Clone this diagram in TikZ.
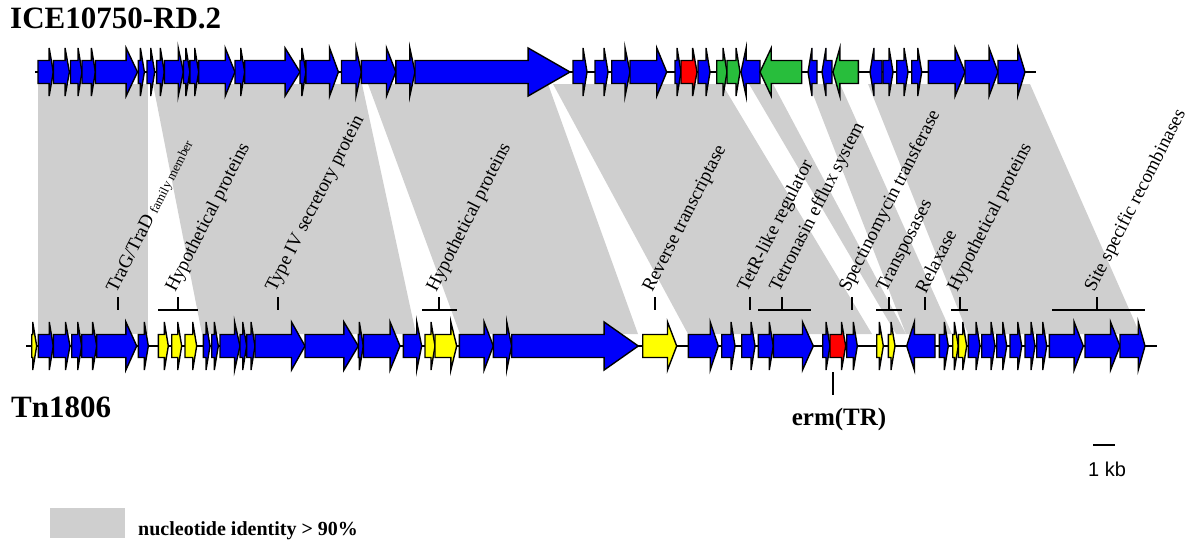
\documentclass[tikz,border=0pt]{standalone}
\usepackage{fontspec}
\setmainfont{Liberation Serif}
\newfontfamily\kbfont{Liberation Sans}
\usepackage{tikz}
\usetikzlibrary{positioning}

\definecolor{gblue}{RGB}{0,0,250}
\definecolor{gyellow}{RGB}{255,255,0}
\definecolor{gred}{RGB}{255,0,0}
\definecolor{ggreen}{RGB}{40,190,60}
\definecolor{bandgrey}{RGB}{207,207,207}

% forward gene: start, end, colour, axis y
\newcommand{\fgene}[4]{%
  \pgfmathsetmacro{\hlen}{min(#2-#1, max(4, 0.27*(#2-#1)))}%
  \pgfmathsetmacro{\hx}{#2-\hlen}%
  \draw[gene, fill=#3] (#1,#4-11.5) -- (\hx,#4-11.5) -- (\hx,#4-24) -- (#2,#4)
    -- (\hx,#4+24) -- (\hx,#4+11.5) -- (#1,#4+11.5) -- cycle;}
% reverse gene: start, end, colour, axis y
\newcommand{\rgene}[4]{%
  \pgfmathsetmacro{\hlen}{min(#2-#1, max(4, 0.27*(#2-#1)))}%
  \pgfmathsetmacro{\hx}{#1+\hlen}%
  \draw[gene, fill=#3] (#2,#4-11.5) -- (\hx,#4-11.5) -- (\hx,#4-24) -- (#1,#4)
    -- (\hx,#4+24) -- (\hx,#4+11.5) -- (#2,#4+11.5) -- cycle;}

\begin{document}
\begin{tikzpicture}[x=1pt, y=-1pt,
    gene/.style={draw=black, line width=1.4pt},
    band/.style={fill=bandgrey},
    marker/.style={line width=2pt},
    lbl/.style={rotate=63, anchor=south west, inner sep=0pt, font=\fontsize{19}{19}\selectfont}]
  \useasboundingbox (0,0) rectangle (1200,550);

  % homology bands
  \foreach \a/\b/\c/\d in {38/148/148/38, 153/362/416/202, 368/548/638/460,
      553/722/872/688, 749/773/906/896, 809/840/952/906, 868/1030/1140/968}
    \fill[band] (\a,84) -- (\b,84) -- (\c,334) -- (\d,334) -- cycle;

  % backbones
  \draw[line width=1.5pt] (35,72) -- (1036,72);
  \draw[line width=1.5pt] (26,346) -- (1157,346);

  % ICE10750-RD.2
  \foreach \s/\e/\c in {38/53.3/gblue, 53.3/69.4/gblue, 70.5/82/gblue, 82/95.4/gblue,
      95.4/137.5/gblue, 138.3/144.4/gblue, 147/154.7/gblue, 156.6/164.3/gblue,
      164.3/183.4/gblue, 183.4/189.9/gblue, 189.9/198.7/gblue, 198.7/235/gblue,
      235/244.7/gblue, 244.7/300/gblue, 300/305.9/gblue, 305.9/338.4/gblue,
      341.5/361.4/gblue, 361.4/395.8/gblue, 395.8/415/gblue, 415/570/gblue,
      573/587/gblue, 595/608/gblue, 611.7/630/gblue, 630/666.7/gblue,
      675/681/gblue, 681/697/gred, 698/710/gblue, 716.7/727/ggreen, 727/740/ggreen,
      883/893/gblue, 896.7/908/gblue, 911.7/921.7/gblue, 928.3/965/gblue,
      965/998/gblue, 998/1025/gblue}
    \fgene{\s}{\e}{\c}{72};
  \foreach \s/\e/\c in {741/760/gblue, 760/801.7/ggreen, 808/817/gblue,
      822/832/gblue, 833/858.3/ggreen, 870/882/gblue}
    \rgene{\s}{\e}{\c}{72};

  % Tn1806
  \foreach \s/\e/\c in {31.7/36.7/gyellow, 38.3/53.3/gblue, 53.3/70/gblue,
      71.7/81.7/gblue, 81.7/96.7/gblue, 96.7/136.7/gblue, 138.3/148.3/gblue,
      158.3/168.3/gyellow, 171.7/181.7/gyellow, 185/196.7/gyellow,
      203.3/210/gblue, 211.7/218.3/gblue, 220/240/gblue, 240/246.7/gblue,
      246.7/255/gblue, 255/305/gblue, 305/358.3/gblue, 358.3/363.3/gblue,
      363.3/400/gblue, 403.3/421.7/gblue, 425/435/gyellow, 435/456.7/gyellow,
      459.3/493.3/gblue, 493.3/511.7/gblue, 511.7/638.3/gblue,
      642.7/676.7/gyellow, 688.3/718.3/gblue, 721.7/735/gblue, 741.7/755/gblue,
      758.3/773.3/gblue, 773.3/813.3/gblue, 822.7/830/gblue, 830/845.7/gred,
      846.7/857.3/gblue, 876.7/883.3/gyellow, 888.3/895/gyellow,
      939.3/948.3/gblue, 952.7/958.3/gyellow, 958.3/966.7/gyellow,
      968.3/980/gblue, 981.7/995/gblue, 996.7/1006.7/gblue, 1010/1021.7/gblue,
      1025/1035/gblue, 1036.7/1046.7/gblue, 1049.3/1083.3/gblue,
      1085/1120/gblue, 1120/1145/gblue}
    \fgene{\s}{\e}{\c}{346};
  \rgene{906.7}{935}{gblue}{346};

  % annotation marks
  \foreach \x in {118, 278, 655, 750, 851.5, 925}
    \draw[marker] (\x,297) -- (\x,310);
  \foreach \a/\m/\b in {158/178/198, 422/439/457, 758/782/811, 876/889/902,
      951/960/968, 1052/1097/1145}
  {
    \draw[marker] (\a,310) -- (\b,310);
    \draw[marker] (\m,297) -- (\m,310);
  }
  \foreach \x/\t [count=\i] in {118/{TraG/TraD {\fontsize{13}{13}\selectfont family member}},
      178/Hypothetical proteins, 278/Type IV secretory protein,
      439/Hypothetical proteins, 655/Reverse transcriptase,
      750/TetR-like regulator, 782/Tetronasin efflux system,
      851.5/Spectinomycin transferase, 889/Transposases, 925/Relaxase,
      960/Hypothetical proteins, 1097/Site specific recombinases}
    \node[lbl] (lab\i) at (\x+1,295) {\t};

  % names
  \node[anchor=base west, inner sep=0pt, font=\bfseries\fontsize{31}{31}\selectfont] (ice) at (10,28) {ICE10750-RD.2};
  \node[anchor=base west, inner sep=0pt, font=\bfseries\fontsize{31}{31}\selectfont] (tn) at (11,417) {Tn1806};

  % erm(TR)
  \coordinate (ermtop) at (833,372);
  \coordinate (ermbot) at (833,395);
  \draw[marker] (ermtop) -- (ermbot);
  \node[anchor=base, inner sep=0pt, font=\bfseries\fontsize{25}{25}\selectfont] (erm) at (839,425) {erm(TR)};

  % scale bar
  \coordinate (kbl) at (1093,445);
  \coordinate (kbr) at (1115,445);
  \coordinate (kbm) at (1104,445);
  \draw[line width=2.5pt] (kbl) -- (kbr);
  \node[below=17pt of kbm, xshift=3pt, inner sep=0pt, font=\kbfont\fontsize{20}{20}\selectfont] (kb) {1 kb};

  % legend
  \node[band, minimum width=75pt, minimum height=30pt, inner sep=0pt] (legbox) at (87.5,523) {};
  \node[anchor=base west, inner sep=0pt, font=\bfseries\fontsize{20}{20}\selectfont] (legtext) at (138,535) {nucleotide identity > 90\%};
\end{tikzpicture}
\end{document}
